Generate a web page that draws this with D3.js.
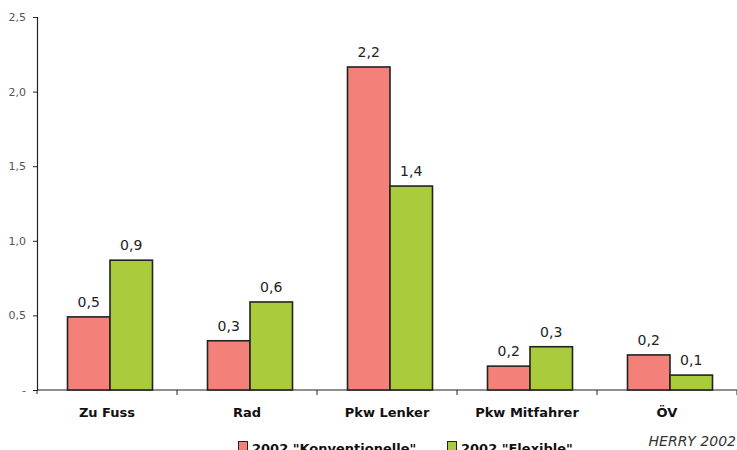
<!DOCTYPE html>
<html>
<head>
<meta charset="utf-8">
<script src="https://cdn.jsdelivr.net/npm/d3@7"></script>
<style>
  html, body { margin: 0; padding: 0; background: #fff; }
  svg { display: block; }
</style>
</head>
<body>
<svg id="chart" width="737" height="450"></svg>
<script>
// Trips per person and day, by mode
const categories = ["Zu Fuss", "Rad", "Pkw Lenker", "Pkw Mitfahrer", "ÖV"];
const konventionelle = [0.49, 0.33, 2.165, 0.16, 0.235];
const flexible = [0.87, 0.59, 1.367, 0.29, 0.10];
const seriesNames = ['2002 "Konventionelle"', '2002 "Flexible"'];
const seriesColors = ["#F4807A", "#AACB3B"];
const yTicks = [0, 0.5, 1.0, 1.5, 2.0, 2.5];
const sourceNote = "HERRY 2002";

const svg = d3.select("#chart");
const font = "'DejaVu Sans', Verdana, sans-serif";

const x0 = 37, x1 = 737, yTop = 17, yBase = 390;
const barShift = 3;

const x = d3.scaleBand().domain(categories).range([x0, x1]).paddingInner(0).paddingOuter(0);
const xs = d3.scaleBand().domain([0, 1]).range([0, 85]);
const y = d3.scaleLinear().domain([0, 2.5]).range([yBase, yTop]);

const fmt = v => v === 0 ? "-" : d3.format(".1f")(v).replace(".", ",");

// Y axis
const yAxis = svg.append("g")
  .attr("transform", `translate(${x0},0)`)
  .call(d3.axisLeft(y).tickValues(yTicks).tickSize(4).tickPadding(7).tickFormat(fmt));
yAxis.select(".domain").attr("stroke", "#222").attr("stroke-width", 1.2);
yAxis.selectAll(".tick line").attr("stroke", "#222");
yAxis.selectAll(".tick text")
  .attr("fill", "#555").style("font-family", font).style("font-size", "11px");

// X axis with ticks on category boundaries
svg.append("line")
  .attr("x1", x0).attr("x2", x1).attr("y1", yBase).attr("y2", yBase)
  .attr("stroke", "#222").attr("stroke-width", 1.2);
svg.append("line")
  .attr("x1", x0).attr("x2", x0).attr("y1", yBase).attr("y2", yBase + 4)
  .attr("stroke", "#222");
svg.selectAll(".xtick").data(categories).enter().append("line")
  .attr("class", "xtick")
  .attr("x1", d => x(d) + x.bandwidth()).attr("x2", d => x(d) + x.bandwidth())
  .attr("y1", yBase).attr("y2", yBase + 5)
  .attr("stroke", "#222");

svg.selectAll(".xlabel").data(categories).enter().append("text")
  .attr("class", "xlabel")
  .attr("x", d => x(d) + x.bandwidth() / 2)
  .attr("y", 417)
  .attr("text-anchor", "middle")
  .style("font-family", font).style("font-size", "13px").style("font-weight", "bold")
  .attr("fill", "#111")
  .text(d => d);

// Bars
const series = [konventionelle, flexible];
const groups = svg.selectAll(".grp").data(categories).enter().append("g")
  .attr("transform", d => `translate(${x(d) + x.bandwidth() / 2 - 42.5 + barShift},0)`);

groups.each(function(cat, i) {
  const g = d3.select(this);
  series.forEach((vals, s) => {
    const v = vals[i];
    g.append("rect")
      .attr("x", xs(s))
      .attr("y", y(v))
      .attr("width", xs.bandwidth())
      .attr("height", yBase - y(v))
      .attr("fill", seriesColors[s])
      .attr("stroke", "#222")
      .attr("stroke-width", 1.6);
    g.append("text")
      .attr("x", xs(s) + xs.bandwidth() / 2)
      .attr("y", y(v) - 10)
      .attr("text-anchor", "middle")
      .style("font-family", font).style("font-size", "14px")
      .attr("fill", "#222")
      .text(fmt(v));
  });
});

// Legend
const legendItems = [{ x: 238, i: 0 }, { x: 447, i: 1 }];
const lg = svg.selectAll(".legend").data(legendItems).enter().append("g")
  .attr("transform", d => `translate(${d.x},0)`);
lg.append("rect")
  .attr("x", 0.5).attr("y", 441.5).attr("width", 9).attr("height", 10)
  .attr("fill", d => seriesColors[d.i]).attr("stroke", "#222").attr("stroke-width", 1);
lg.append("text")
  .attr("x", 14).attr("y", 453)
  .style("font-family", font).style("font-size", "13px").style("font-weight", "bold")
  .attr("fill", "#111")
  .text(d => seriesNames[d.i]);

// Source note
svg.append("text")
  .attr("x", 736).attr("y", 446)
  .attr("text-anchor", "end")
  .style("font-family", font).style("font-size", "14px").style("font-style", "italic")
  .attr("fill", "#333")
  .text(sourceNote);
</script>
</body>
</html>
